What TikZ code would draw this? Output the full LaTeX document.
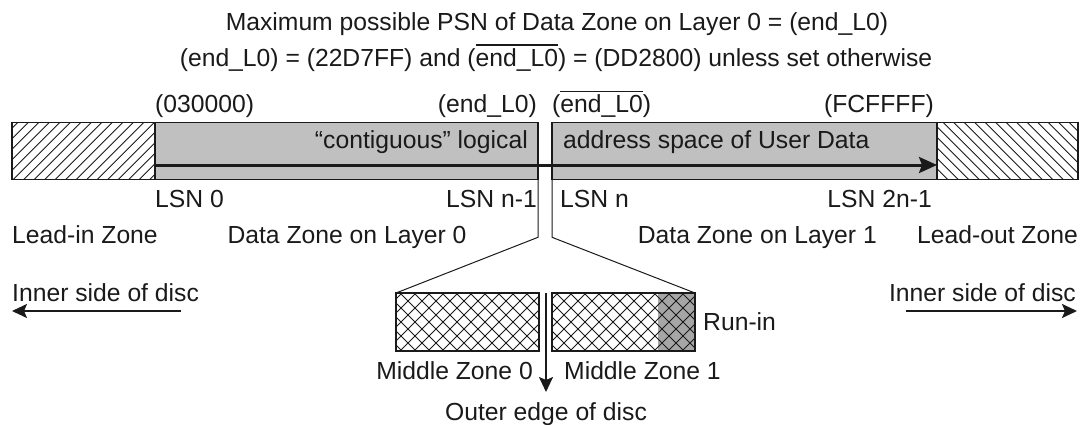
\documentclass[tikz,border=0pt]{standalone}
\usepackage{fontspec}
\setmainfont{Liberation Sans}
\usetikzlibrary{arrows.meta}
\definecolor{barfill}{HTML}{C0C0C0}
\definecolor{runfill}{HTML}{A6A6A6}
\definecolor{ink}{HTML}{1A1A1A}
\newcommand\ovl[1]{\leavevmode\vbox{\hrule height 1.3pt\kern 3pt\hbox{#1}}}
\begin{document}
\begin{tikzpicture}[x=1pt,y=-1pt,
  font=\fontsize{24.7}{29}\selectfont,
  zone/.style={draw=ink, line width=1.2pt, inner sep=0pt, outer sep=0pt},
  lbl/.style={inner sep=0pt, text=ink},
  hatch/.style={draw=ink, line width=0.8pt},
  thinline/.style={draw=ink, line width=1pt},
  bigarrow/.style={draw=ink, line width=3pt, -{Stealth[length=18pt,width=16pt,inset=3pt]}},
  midarrow/.style={draw=ink, line width=2pt, -{Stealth[length=15pt,width=14pt,inset=3pt]}}]
\useasboundingbox (0,0) rectangle (1081,425);

% main bar
\node[zone, fill=white, minimum width=143pt, minimum height=57pt] (leadin) at (83.5,150.8) {};
\node[zone, fill=barfill, minimum width=383pt, minimum height=57pt] (dz0) at (346.5,150.8) {};
\node[zone, fill=barfill, minimum width=385pt, minimum height=57pt] (dz1) at (744.5,150.8) {};
\node[zone, fill=white, minimum width=141pt, minimum height=57pt] (leadout) at (1007.5,150.8) {};

\begin{scope}
  \clip (leadin.south west) rectangle (leadin.north east);
  \foreach \x in {-60,-49.5,...,160} \draw[hatch] (\x,179.3) -- ++(57,-57);
\end{scope}
\draw[zone] (leadin.south west) rectangle (leadin.north east);
\begin{scope}
  \clip (leadout.south west) rectangle (leadout.north east);
  \foreach \x in {880,890.5,...,1090} \draw[hatch] (\x,122.3) -- ++(57,57);
\end{scope}
\draw[zone] (leadout.south west) rectangle (leadout.north east);

% middle zones
\node[zone, fill=white, minimum width=143pt, minimum height=58pt] (mz0) at (467.5,322) {};
\node[zone, fill=white, minimum width=143pt, minimum height=58pt] (mz1) at (623.5,322) {};
\node[inner sep=0pt, outer sep=0pt, fill=runfill, minimum width=37pt, minimum height=58pt] (runin) at (676.5,322) {};
\begin{scope}
  \clip (mz0.south west) rectangle (mz0.north east);
  \foreach \x in {330,344,...,560} {
    \draw[hatch] (\x,351) -- ++(58,-58);
    \draw[hatch] (\x,293) -- ++(58,58);
  }
\end{scope}
\begin{scope}
  \clip (mz1.south west) rectangle (mz1.north east);
  \foreach \x in {486,500,...,716} {
    \draw[hatch] (\x,351) -- ++(58,-58);
    \draw[hatch] (\x,293) -- ++(58,58);
  }
\end{scope}
\draw[zone] (mz0.south west) rectangle (mz0.north east);
\draw[zone] (mz1.south west) rectangle (mz1.north east);

% zoom connector lines
\draw[thinline] (dz0.south east) -- ++(0,58) -- (mz0.north west);
\draw[thinline] (dz1.south west) -- ++(0,58) -- (mz1.north east);

% logical address arrow
\coordinate (ay) at (0,165);
\draw[bigarrow] (dz0.west |- ay) -- (leadout.west |- ay);

% outer edge arrow
\coordinate (odtop) at (546,293);
\coordinate (odtip) at (546,392);
\draw[midarrow] (odtop) -- (odtip);

% inner side arrows
\coordinate (ilstart) at (181,311);
\coordinate (ilend) at (12,311);
\coordinate (irstart) at (906,311);
\coordinate (irend) at (1077,311);
\draw[midarrow] (ilstart) -- (ilend);
\draw[midarrow] (irstart) -- (irend);

% texts
\node[lbl, anchor=base] (t1) at (557,30.5) {Maximum possible PSN of Data Zone on Layer 0 = (end\_L0)};
\node[lbl, anchor=base] (t2) at (556,66.5) {(end\_L0) = (22D7FF) and (\ovl{end\_L0}) = (DD2800) unless set otherwise};
\node[lbl, anchor=base west] (p030) at (155,113) {(030000)};
\node[lbl, anchor=base east] (pend) at (537,113) {(end\_L0)};
\node[lbl, anchor=base west] (pendb) at (552,113) {(\ovl{end\_L0})};
\node[lbl, anchor=base east] (pfc) at (934,113) {(FCFFFF)};
\node[lbl, anchor=base east] (txt0) at (528,149) {“contiguous” logical};
\node[lbl, anchor=base west] (txt1) at (563,149) {address space of User Data};
\node[lbl, anchor=base west] (lsn0) at (155,207) {LSN 0};
\node[lbl, anchor=base east] (lsnn1) at (537,207) {LSN n-1};
\node[lbl, anchor=base west] (lsnn) at (560,207) {LSN n};
\node[lbl, anchor=base east] (lsn2n) at (932,207) {LSN 2n-1};
\node[lbl, anchor=base west] (lin) at (12,243) {Lead-in Zone};
\node[lbl, anchor=base] (dzl0) at (347,243) {Data Zone on Layer 0};
\node[lbl, anchor=base east] (dzl1) at (877,243) {Data Zone on Layer 1};
\node[lbl, anchor=base east] (lout) at (1078,243) {Lead-out Zone};
\node[lbl, anchor=base west] (innerl) at (12,301) {Inner side of disc};
\node[lbl, anchor=base east] (innerr) at (1076,301) {Inner side of disc};
\node[lbl, anchor=base east] (mzl0) at (533,379) {Middle Zone 0};
\node[lbl, anchor=base west] (mzl1) at (564,379) {Middle Zone 1};
\node[lbl, anchor=base west] (runl) at (703,330) {Run-in};
\node[lbl, anchor=base] (outer) at (546,420) {Outer edge of disc};
\end{tikzpicture}
\end{document}
